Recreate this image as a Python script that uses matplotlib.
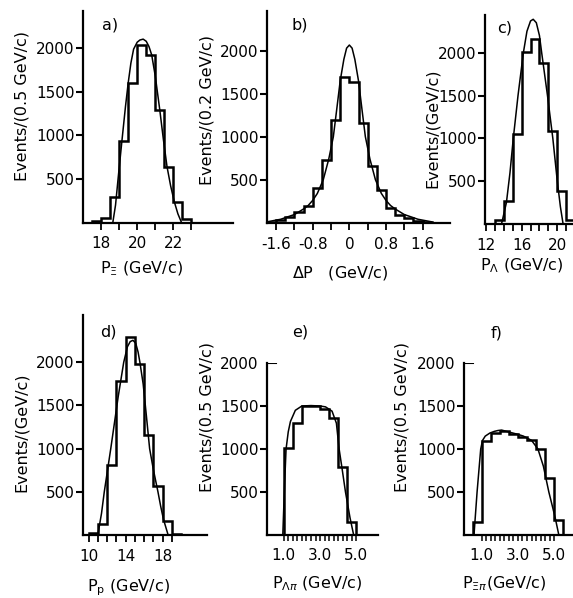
import numpy as np
import matplotlib.pyplot as plt

plt.rcParams['font.family'] = 'DejaVu Sans'

W, H = 573, 598

# ---- data ----
# a) P_Xi, bins of 0.5 GeV/c
a_edges = [17.5, 18.0, 18.5, 19.0, 19.5, 20.0, 20.5, 21.0, 21.5, 22.0, 22.5, 23.0]
a_counts = [19, 50, 290, 930, 1600, 2040, 1925, 1290, 640, 240, 38]
a_fit_x = [18.65, 18.8, 18.95, 19.15, 19.35, 19.5, 19.65, 19.8, 20.0, 20.15, 20.33,
           20.5, 20.65, 20.8, 21.0, 21.25, 21.45, 21.65, 21.85, 22.05, 22.25, 22.45]
a_fit_y = [0, 200, 520, 930, 1330, 1600, 1830, 1990, 2070, 2095, 2105,
           2080, 2020, 1925, 1680, 1290, 950, 640, 420, 240, 100, 0]

# b) Delta P, bins of 0.2 GeV/c
b_edges = [-1.8, -1.6, -1.4, -1.2, -1.0, -0.8, -0.6, -0.4, -0.2, 0.0,
           0.2, 0.4, 0.6, 0.8, 1.0, 1.2, 1.4, 1.6, 1.8]
b_counts = [10, 30, 70, 130, 195, 400, 730, 1200, 1690,
            1640, 1165, 660, 385, 170, 85, 50, 25, 10]
b_fit_x = [-1.8, -1.5, -1.2, -1.0, -0.9, -0.8, -0.7, -0.57, -0.45, -0.35, -0.28,
           -0.2, -0.12, -0.06, 0.0, 0.06, 0.12, 0.2, 0.28, 0.35, 0.45, 0.57,
           0.7, 0.8, 0.9, 1.0, 1.2, 1.5, 1.8]
b_fit_y = [10, 40, 95, 160, 200, 260, 340, 500, 740, 1000, 1300,
           1650, 1900, 2030, 2066, 2030, 1900, 1650, 1300, 1000, 740, 500,
           340, 260, 200, 160, 95, 40, 10]

# c) P_Lambda, bins of 1 GeV/c
c_edges = [13, 14, 15, 16, 17, 18, 19, 20, 21, 22]
c_counts = [43, 264, 1050, 2008, 2155, 1884, 1089, 380, 43]
c_fit_x = [13.75, 14.3, 14.7, 15.07, 15.6, 16.2, 16.6, 17.0, 17.3, 17.65,
           18.0, 18.25, 18.9, 19.5, 20.0, 20.35, 20.65]
c_fit_y = [0, 250, 600, 1000, 1500, 2000, 2250, 2370, 2390, 2350,
           2200, 2000, 1500, 1000, 500, 200, 0]

# d) P_p, bins of 1 GeV/c
d_edges = [10, 11, 12, 13, 14, 15, 16, 17, 18, 19, 20]
d_counts = [20, 130, 810, 1785, 2290, 1980, 1158, 570, 165, 10]
d_fit_x = [11.0, 11.4, 11.7, 12.05, 12.4, 12.8, 13.2, 13.8, 14.2, 14.5, 14.8,
           15.1, 15.35, 15.55, 15.9, 16.25, 16.6, 17.0, 17.5, 17.8, 18.1, 18.6]
d_fit_y = [0, 250, 500, 750, 1000, 1300, 1600, 2000, 2180, 2240, 2255,
           2220, 2120, 2000, 1750, 1380, 1000, 760, 500, 330, 180, 0]

# e) P_Lambda-pi, bins of 0.5 GeV/c
e_edges = [1.0, 1.5, 2.0, 2.5, 3.0, 3.5, 4.0, 4.5, 5.0]
e_counts = [1010, 1300, 1505, 1500, 1460, 1355, 790, 150]
e_fit_x = [0.95, 1.05, 1.13, 1.25, 1.37, 1.64, 2.0, 2.5, 3.0, 3.3,
           3.66, 3.9, 4.05, 4.2, 4.4, 4.65, 4.85]
e_fit_y = [0, 600, 1000, 1200, 1320, 1450, 1500, 1505, 1500, 1490,
           1440, 1300, 1000, 790, 500, 200, 0]

# f) P_Xi-pi, bins of 0.5 GeV/c
f_edges = [0.5, 1.0, 1.5, 2.0, 2.5, 3.0, 3.5, 4.0, 4.5, 5.0, 5.5]
f_counts = [156, 1095, 1185, 1215, 1170, 1135, 1100, 1000, 660, 180]
f_fit_x = [0.58, 0.75, 0.95, 1.05, 1.2, 1.45, 1.7, 1.9, 2.1, 2.55, 3.0,
           3.3, 3.75, 4.1, 4.4, 4.7, 4.9, 5.05, 5.25]
f_fit_y = [0, 500, 1000, 1100, 1150, 1185, 1205, 1215, 1220, 1195, 1170,
           1150, 1100, 1000, 800, 500, 330, 200, 0]

y_ticks = [500, 1000, 1500, 2000]

fig = plt.figure(figsize=(W / 100, H / 100), dpi=100)


def make_axes(left, right, top, bottom):
    # pixel box -> figure fraction
    return fig.add_axes([left / W, 1 - bottom / H, (right - left) / W, (bottom - top) / H])


def style(ax, xlim, ytop, xticks, xlabels):
    ax.set_xlim(*xlim)
    ax.set_ylim(0, ytop)
    for s in ['top', 'right']:
        ax.spines[s].set_visible(False)
    for s in ['left', 'bottom']:
        ax.spines[s].set_linewidth(1.6)
    ax.set_yticks(y_ticks, [str(v) for v in y_ticks])
    ax.set_xticks(xticks, [xlabels.get(t, '') for t in xticks])
    ax.tick_params(axis='y', direction='out', length=5, width=1.5, pad=1, labelsize=11)
    ax.tick_params(axis='x', direction='out', length=5, width=1.3, pad=5, labelsize=11)
    ax.patch.set_alpha(0)


def draw(ax, edges, counts, fx, fy):
    ax.stairs(counts, edges, color='k', lw=1.8)
    ax.plot(fx, fy, color='k', lw=1.1)


# a
ax = make_axes(83, 233, 11, 222.5)
draw(ax, a_edges, a_counts, a_fit_x, a_fit_y)
style(ax, (17.0, 25.3), 2428, [18, 19, 20, 21, 22, 23],
      {18: '18', 20: '20', 22: '22'})

# b
ax = make_axes(267, 450, 11, 222.7)
draw(ax, b_edges, b_counts, b_fit_x, b_fit_y)
bt = [-1.6, -1.2, -0.8, -0.4, 0.0, 0.4, 0.8, 1.2, 1.6]
style(ax, (-1.80, 2.20), 2462, bt,
      {-1.6: '-1.6', -0.8: '-0.8', 0.0: '0', 0.8: '0.8', 1.6: '1.6'})

# c
ax = make_axes(485, 573, 15, 224)
draw(ax, c_edges, c_counts, c_fit_x, c_fit_y)
style(ax, (11.9, 21.76), 2440, [12, 13, 14, 15, 16, 17, 18, 19, 20, 21],
      {12: '12', 16: '16', 20: '20'})

# d
ax = make_axes(83, 207, 315, 535)
draw(ax, d_edges, d_counts, d_fit_x, d_fit_y)
style(ax, (9.4, 22.8), 2548, [10, 11, 12, 13, 14, 15, 16, 17, 18, 19],
      {10: '10', 14: '14', 18: '18'})

# e, f share the fine momentum axis
fine = [1.0, 1.25, 1.5, 1.75, 2.0, 2.25, 2.5, 2.75, 3.0, 3.25, 3.5, 3.75,
        4.0, 4.25, 4.5, 4.75, 5.0]
fine_lab = {1.0: '1.0', 3.0: '3.0', 5.0: '5.0'}

for box, xlim, ed, ct, fx, fy in [((267, 378, 363, 535), (0.08, 6.19), e_edges, e_counts, e_fit_x, e_fit_y),
                                  ((464, 573, 363, 535), (0.03, 6.03), f_edges, f_counts, f_fit_x, f_fit_y)]:
    ax = make_axes(*box)
    draw(ax, ed, ct, fx, fy)
    style(ax, xlim, 2000, fine, fine_lab)
    ax.tick_params(axis='x', length=4, width=1.1)
    # top of the axis: short tick pointing inwards instead of outwards
    ax.yaxis.get_major_ticks()[-1].tick1line.set_visible(False)
    ax.axhline(2000, 0, 0.08, color='k', lw=1.5)

# y labels (centres in pixels)
ylabs = [(22, 106, 'Events/(0.5 GeV/c)'), (207, 110, 'Events/(0.2 GeV/c)'),
         (432, 128, 'Events/(GeV/c)'), (21, 432, 'Events/(GeV/c)'),
         (207, 417, 'Events/(0.5 GeV/c)'), (402, 417, 'Events/(0.5 GeV/c)')]
for x, y, t in ylabs:
    fig.text(x / W, 1 - y / H, t, rotation=90, ha='center', va='center', fontsize=11.5)

# panel letters
for x, y, t in [(110, 25, 'a)'), (300, 25, 'b)'), (505, 28, 'c)'),
                (108, 332, 'd)'), (300, 332, 'e)'), (497, 333, 'f)')]:
    fig.text(x / W, 1 - y / H, t, ha='center', va='center', fontsize=11.5)

# x labels (left edge, baseline)
xlabs = [(100, 273, r'P$_{\Xi}$ (GeV/c)'), (292, 277, r'$\Delta$P   (GeV/c)'),
         (480, 270, r'P$_{\Lambda}$ (GeV/c)'), (87, 591, r'P$_{\rm p}$ (GeV/c)'),
         (272, 588, r'P$_{\Lambda\pi}$ (GeV/c)'), (462, 588, r'P$_{\Xi\pi}$(GeV/c)')]
for x, y, t in xlabs:
    fig.text(x / W, 1 - y / H, t, ha='left', va='baseline', fontsize=11.5)

fig.savefig('out.png', dpi=100)
